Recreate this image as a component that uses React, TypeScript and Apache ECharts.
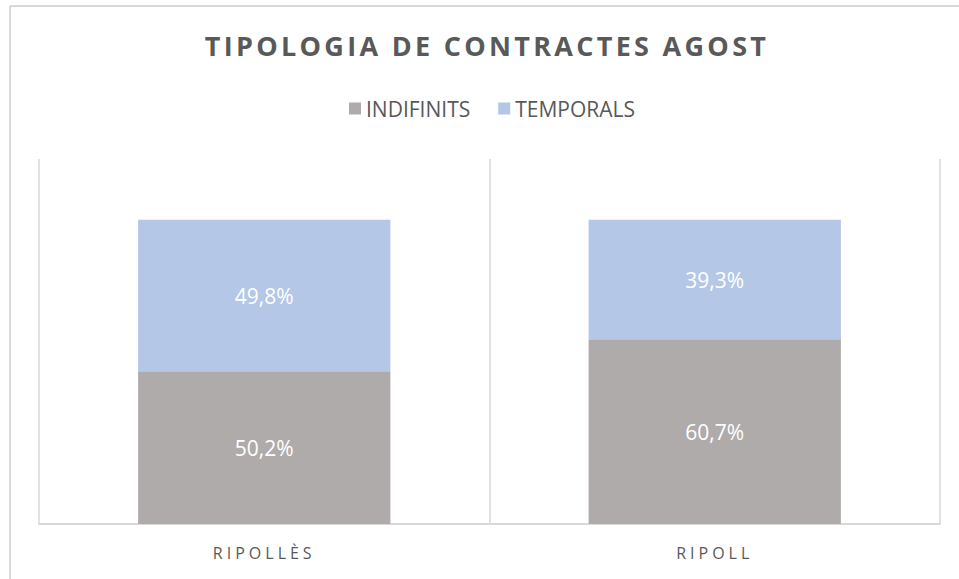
import React, { useEffect, useRef } from "react";
import * as echarts from "echarts";

const categories = ["RIPOLLÈS", "RIPOLL"];
const indefinits = [50.2, 60.7];
const temporals = [49.8, 39.3];
const seriesNames = ["INDIFINITS", "TEMPORALS"];
const titleText = "TIPOLOGIA DE CONTRACTES AGOST";

const FONT = "'Open Sans', 'Noto Sans', sans-serif";

export default function App() {
  const ref = useRef<HTMLDivElement>(null);
  useEffect(() => {
    if (!ref.current) return;
    const chart = echarts.init(ref.current, undefined, { renderer: "svg" });
    const fmt = (p: any) => p.value.toFixed(1).replace(".", ",") + "%";
    chart.setOption({
      animation: false,
      backgroundColor: "#ffffff",
      title: {
        text: titleText,
        left: 482,
        textAlign: "center",
        top: 27,
        textStyle: { fontFamily: FONT, fontSize: 27, fontWeight: "bold", color: "#595959" },
      },
      legend: {
        top: 93,
        left: 344,
        itemWidth: 12,
        itemHeight: 12,
        itemGap: 28,
        icon: "rect",
        textStyle: { fontFamily: FONT, fontSize: 21, color: "#595959" },
        data: seriesNames,
      },
      grid: { left: 39, right: 19, top: 159, bottom: 55, containLabel: false },
      xAxis: {
        type: "category",
        data: categories,
        boundaryGap: true,
        axisLine: { show: true, lineStyle: { color: "#d9d9d9", width: 2 } },
        axisTick: { show: false },
        splitLine: { show: true, lineStyle: { color: "#d9d9d9", width: 1.5 } },
        axisLabel: { fontFamily: FONT, fontSize: 16, color: "#595959", margin: 21 },
      },
      yAxis: {
        type: "value",
        min: 0,
        max: 120,
        show: false,
        splitLine: { show: false },
      },
      color: ["#AFABAB", "#B4C7E7"],
      series: [
        {
          name: seriesNames[0],
          type: "bar",
          stack: "total",
          barWidth: "56%",
          data: indefinits,
          itemStyle: { color: "#AFABAB" },
          label: { show: true, position: "inside", color: "#ffffff", fontFamily: FONT, fontSize: 21, formatter: fmt },
        },
        {
          name: seriesNames[1],
          type: "bar",
          stack: "total",
          barWidth: "56%",
          data: temporals,
          itemStyle: { color: "#B4C7E7" },
          label: { show: true, position: "inside", color: "#ffffff", fontFamily: FONT, fontSize: 21, formatter: fmt },
        },
      ],
      graphic: [
        { type: "line", shape: { x1: 10, y1: 6, x2: 959, y2: 6 }, style: { stroke: "#d9d9d9", lineWidth: 2 } },
        { type: "line", shape: { x1: 10, y1: 6, x2: 10, y2: 579 }, style: { stroke: "#d9d9d9", lineWidth: 2 } },
      ],
    });
    const svg = ref.current.querySelector("svg");
    if (svg) {
      svg.querySelectorAll("text").forEach((t) => {
        const s = t.textContent || "";
        if (s === titleText) t.style.letterSpacing = "3.3px";
        if (categories.includes(s)) t.style.letterSpacing = "4px";
      });
    }
    return () => chart.dispose();
  }, []);
  return (
    <div
      ref={ref}
      style={{ position: "fixed", left: 0, top: 0, width: 959, height: 579 }}
    />
  );
}
